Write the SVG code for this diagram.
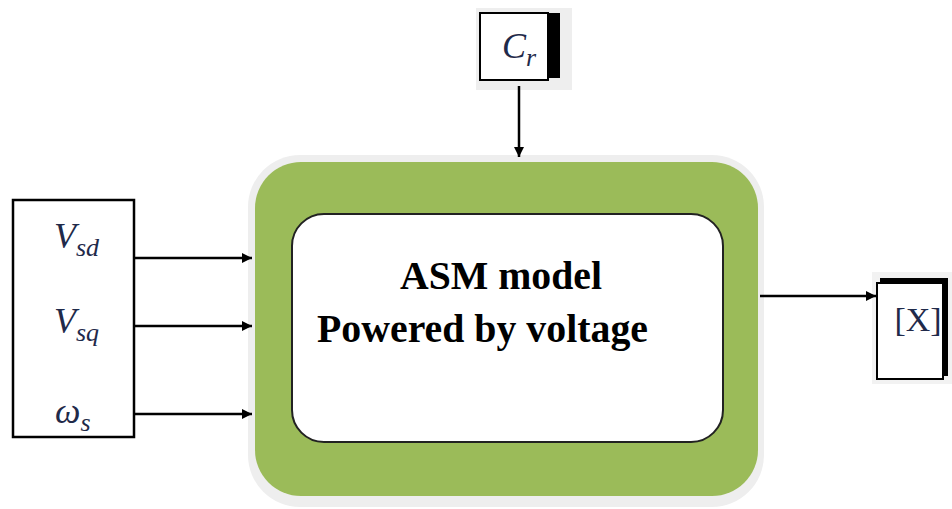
<svg xmlns="http://www.w3.org/2000/svg" width="952" height="509" viewBox="0 0 952 509">
<defs>
<marker id="ah" viewBox="0 0 10 10" refX="10" refY="5" markerWidth="10" markerHeight="10" markerUnits="userSpaceOnUse" orient="auto"><path d="M0,0 L10,5 L0,10 Z" fill="#000"/></marker>
<style>
.var{font-family:"Liberation Serif","DejaVu Serif",serif;font-style:italic;fill:#1f2a4a;font-size:36px}
.sub{font-size:26px}
.wire{stroke:#000;stroke-width:2.5;fill:none;marker-end:url(#ah)}
.title{font-family:"Liberation Serif","Times New Roman",serif;font-weight:bold;font-size:40px;fill:#000}
</style>
</defs>
<rect width="952" height="509" fill="#fff"/>
<g id="inputs">
<rect x="13" y="200" width="121" height="237" fill="#fff" stroke="#000" stroke-width="2.5"/>
<text class="var" x="54" y="248">V<tspan class="sub" dy="8">sd</tspan></text>
<text class="var" x="54" y="333">V<tspan class="sub" dy="8">sq</tspan></text>
<text class="var" x="55" y="423">ω<tspan class="sub" dy="8">s</tspan></text>
</g>
<g id="cr">
<rect x="476" y="8" width="96" height="82" fill="#eeeeee"/>
<rect x="480" y="13" width="80" height="65" fill="#000"/>
<rect x="480" y="13" width="68" height="67" fill="#fff" stroke="#000" stroke-width="2"/>
<text class="var" x="502" y="58" font-size="32">C<tspan class="sub" dy="8" font-size="24">r</tspan></text>
</g>
<g id="asm">
<rect x="248" y="155" width="516" height="352" rx="52" fill="#eeeeee"/>
<rect x="255" y="162" width="503" height="334" rx="46" fill="#9bbb59"/>
<rect x="292" y="214" width="431" height="228" rx="32" fill="#fff" stroke="#222" stroke-width="2"/>
<text class="title" x="400" y="289" textLength="202" lengthAdjust="spacingAndGlyphs">ASM model</text>
<text class="title" x="317" y="342" textLength="331" lengthAdjust="spacingAndGlyphs">Powered by voltage</text>
</g>
<g id="out">
<rect x="872" y="272" width="80" height="112" fill="#f2f2f2"/>
<rect x="880" y="278" width="68" height="98" fill="#000"/>
<rect x="877" y="283" width="66" height="96" fill="#fff" stroke="#000" stroke-width="2"/>
<text x="918" y="331" font-family="Liberation Serif,serif" font-size="34" fill="#1f2a4a" text-anchor="middle">[X]</text>
</g>
<g id="connectors">
<line class="wire" x1="134" y1="258" x2="252" y2="258"/>
<line class="wire" x1="134" y1="326" x2="252" y2="326"/>
<line class="wire" x1="134" y1="414" x2="252" y2="414"/>
<line class="wire" x1="519" y1="86" x2="519" y2="157"/>
<line class="wire" x1="760" y1="296" x2="876" y2="296"/>
</g>
</svg>
